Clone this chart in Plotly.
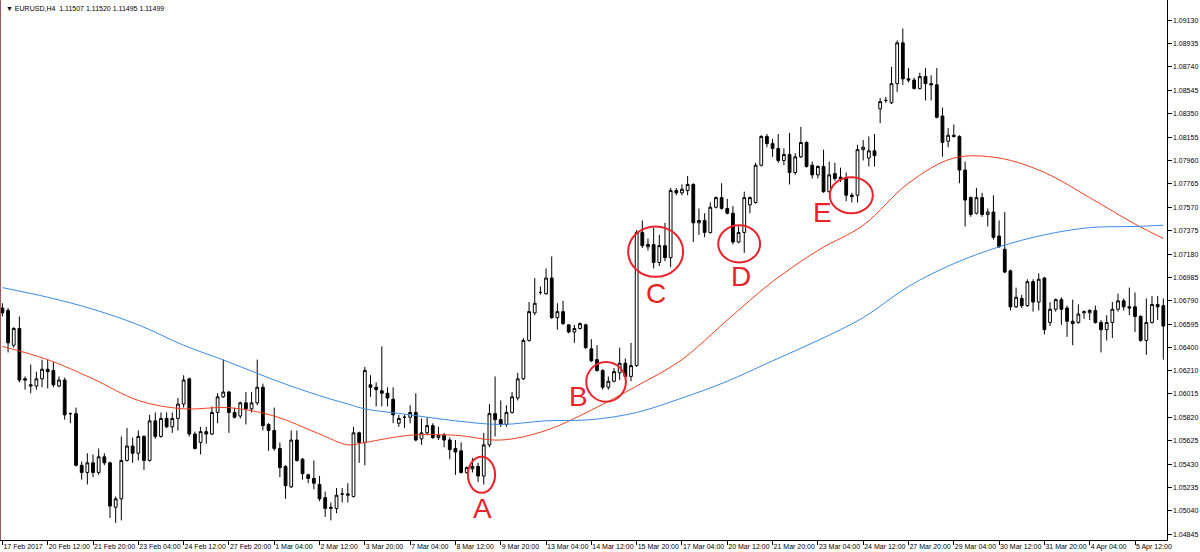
import plotly.graph_objects as go

# ---------------- data ----------------
opens = [1.0673,1.0671,1.0642,1.0656,1.0614,1.0608,1.0608,1.0614,1.0622,1.0621,
1.0608,1.0613,1.0585,1.0585,1.0542,1.0536,1.0544,1.0536,1.0549,1.0544,
1.0507,1.0514,1.0546,1.0558,1.0552,1.0566,1.0546,1.0579,1.0566,1.0581,
1.0574,1.0581,1.0593,1.0614,1.0568,1.0561,1.0570,1.0568,1.0586,1.0599,
1.0603,1.0586,1.0583,1.0594,1.0589,1.0594,1.0607,1.0576,1.0571,1.0556,
1.0541,1.0524,1.0563,1.0547,1.0534,1.0531,1.0526,1.0515,1.0506,1.0506,
1.0518,1.0517,1.0516,1.0569,1.0561,1.0609,1.0607,1.0604,1.0602,1.0597,
1.0577,1.0582,1.0582,1.0586,1.0564,1.0569,1.0575,1.0565,1.0567,1.0563,
1.0556,1.0554,1.0536,1.0539,1.0541,1.0533,1.0559,1.0585,1.0580,1.0576,
1.0586,1.0598,1.0614,1.0646,1.0669,1.0686,1.0685,1.0698,1.0665,1.0670,
1.0659,1.0653,1.0656,1.0659,1.0639,1.0630,1.0621,1.0607,1.0612,1.0619,
1.0627,1.0616,1.0625,1.0736,1.0724,1.0726,1.0711,1.0725,1.0715,1.0771,
1.0769,1.0771,1.0776,1.0744,1.0746,1.0736,1.0757,1.0765,1.0756,1.0752,
1.0728,1.0736,1.0759,1.0761,1.0792,1.0816,1.0810,1.0806,1.0796,1.0801,
1.0786,1.0799,1.0811,1.0792,1.0784,1.0791,1.0770,1.0785,1.0781,1.0781,
1.0767,1.0767,1.0805,1.0798,1.0804,1.0839,1.0846,1.0844,1.0860,1.0894,
1.0864,1.0863,1.0856,1.0866,1.0860,1.0859,1.0833,1.0812,1.0817,1.0816,
1.0788,1.0765,1.0752,1.0765,1.0751,1.0753,1.0733,1.0722,1.0704,1.0674,
1.0681,1.0675,1.0695,1.0678,1.0698,1.0661,1.0672,1.0680,1.0673,1.0662,
1.0661,1.0669,1.0669,1.0671,1.0661,1.0655,1.0661,1.0672,1.0679,1.0674,
1.0674,1.0666,1.0646,1.0661,1.0676,1.0675]

highs = [1.0677,1.0673,1.0657,1.0666,1.0616,1.0626,1.0620,1.0630,1.0630,1.0628,
1.0616,1.0615,1.0586,1.0590,1.0545,1.0552,1.0551,1.0556,1.0552,1.0545,
1.0516,1.0566,1.0573,1.0565,1.0571,1.0567,1.0584,1.0586,1.0586,1.0586,
1.0586,1.0598,1.0617,1.0615,1.0570,1.0574,1.0574,1.0591,1.0602,1.0630,
1.0604,1.0590,1.0595,1.0603,1.0603,1.0630,1.0610,1.0577,1.0590,1.0561,
1.0542,1.0571,1.0571,1.0548,1.0535,1.0546,1.0533,1.0520,1.0511,1.0523,
1.0523,1.0527,1.0574,1.0570,1.0624,1.0617,1.0611,1.0641,1.0607,1.0607,
1.0584,1.0584,1.0592,1.0602,1.0581,1.0582,1.0577,1.0574,1.0569,1.0565,
1.0563,1.0561,1.0541,1.0548,1.0544,1.0569,1.0593,1.0616,1.0596,1.0592,
1.0603,1.0619,1.0648,1.0678,1.0698,1.0691,1.0706,1.0716,1.0677,1.0679,
1.0659,1.0659,1.0661,1.0660,1.0647,1.0642,1.0622,1.0616,1.0623,1.0640,
1.0631,1.0644,1.0738,1.0746,1.0731,1.0740,1.0734,1.0744,1.0773,1.0773,
1.0776,1.0783,1.0777,1.0756,1.0752,1.0761,1.0766,1.0777,1.0764,1.0758,
1.0741,1.0770,1.0766,1.0794,1.0817,1.0818,1.0814,1.0818,1.0806,1.0819,
1.0802,1.0824,1.0812,1.0795,1.0792,1.0805,1.0795,1.0794,1.0790,1.0786,
1.0769,1.0809,1.0813,1.0816,1.0818,1.0848,1.0849,1.0874,1.0896,1.0906,
1.0873,1.0865,1.0869,1.0873,1.0867,1.0873,1.0840,1.0823,1.0826,1.0817,
1.0795,1.0766,1.0773,1.0769,1.0756,1.0767,1.0746,1.0753,1.0705,1.0690,
1.0684,1.0697,1.0697,1.0702,1.0699,1.0678,1.0681,1.0682,1.0675,1.0680,
1.0676,1.0671,1.0672,1.0675,1.0663,1.0667,1.0678,1.0685,1.0681,1.0690,
1.0686,1.0667,1.0681,1.0683,1.0683,1.0681]

lows = [1.0666,1.0636,1.0640,1.0611,1.0605,1.0602,1.0605,1.0607,1.0606,1.0607,
1.0607,1.0580,1.0577,1.0541,1.0530,1.0526,1.0532,1.0534,1.0542,1.0498,
1.0494,1.0496,1.0545,1.0544,1.0546,1.0538,1.0545,1.0564,1.0565,1.0573,
1.0569,1.0571,1.0590,1.0566,1.0555,1.0551,1.0560,1.0567,1.0577,1.0598,
1.0569,1.0581,1.0581,1.0576,1.0586,1.0592,1.0571,1.0554,1.0554,1.0532,
1.0514,1.0523,1.0545,1.0530,1.0527,1.0522,1.0512,1.0499,1.0496,1.0502,
1.0511,1.0511,1.0515,1.0544,1.0542,1.0599,1.0591,1.0591,1.0591,1.0577,
1.0574,1.0573,1.0577,1.0562,1.0559,1.0567,1.0564,1.0563,1.0557,1.0547,
1.0534,1.0535,1.0535,1.0536,1.0528,1.0526,1.0557,1.0566,1.0574,1.0574,
1.0585,1.0596,1.0613,1.0645,1.0667,1.0684,1.0684,1.0664,1.0655,1.0659,
1.0652,1.0644,1.0655,1.0639,1.0628,1.0620,1.0605,1.0605,1.0611,1.0613,
1.0614,1.0612,1.0624,1.0723,1.0721,1.0706,1.0708,1.0712,1.0707,1.0767,
1.0767,1.0767,1.0728,1.0734,1.0732,1.0735,1.0756,1.0755,1.0751,1.0726,
1.0727,1.0719,1.0752,1.0760,1.0791,1.0807,1.0799,1.0794,1.0792,1.0776,
1.0784,1.0798,1.0790,1.0781,1.0781,1.0769,1.0769,1.0779,1.0778,1.0762,
1.0761,1.0761,1.0796,1.0791,1.0791,1.0827,1.0844,1.0843,1.0853,1.0859,
1.0861,1.0855,1.0855,1.0846,1.0846,1.0831,1.0799,1.0807,1.0815,1.0777,
1.0741,1.0749,1.0751,1.0749,1.0741,1.0730,1.0723,1.0702,1.0671,1.0673,
1.0673,1.0674,1.0670,1.0671,1.0651,1.0658,1.0670,1.0659,1.0649,1.0642,
1.0660,1.0664,1.0663,1.0660,1.0636,1.0646,1.0648,1.0670,1.0671,1.0667,
1.0653,1.0645,1.0634,1.0660,1.0663,1.0630]

closes = [1.0669,1.0644,1.0656,1.0613,1.0613,1.0609,1.0614,1.0622,1.0620,1.0609,
1.0613,1.0584,1.0585,1.0542,1.0536,1.0544,1.0536,1.0549,1.0544,1.0508,
1.0514,1.0546,1.0558,1.0552,1.0566,1.0546,1.0579,1.0566,1.0581,1.0574,
1.0581,1.0593,1.0613,1.0568,1.0556,1.0570,1.0568,1.0586,1.0599,1.0603,
1.0586,1.0582,1.0594,1.0589,1.0594,1.0607,1.0575,1.0571,1.0556,1.0540,
1.0525,1.0563,1.0546,1.0535,1.0531,1.0527,1.0514,1.0506,1.0507,1.0517,
1.0518,1.0518,1.0569,1.0561,1.0621,1.0607,1.0605,1.0602,1.0598,1.0584,
1.0581,1.0582,1.0586,1.0563,1.0569,1.0575,1.0565,1.0567,1.0563,1.0555,
1.0553,1.0536,1.0540,1.0541,1.0533,1.0559,1.0585,1.0580,1.0576,1.0586,
1.0599,1.0614,1.0646,1.0670,1.0677,1.0686,1.0698,1.0665,1.0670,1.0660,
1.0653,1.0656,1.0660,1.0640,1.0629,1.0621,1.0607,1.0612,1.0620,1.0627,
1.0616,1.0625,1.0736,1.0725,1.0726,1.0711,1.0725,1.0715,1.0771,1.0769,
1.0772,1.0776,1.0744,1.0746,1.0736,1.0757,1.0765,1.0756,1.0752,1.0728,
1.0736,1.0765,1.0765,1.0792,1.0816,1.0810,1.0806,1.0796,1.0801,1.0786,
1.0799,1.0811,1.0791,1.0784,1.0791,1.0770,1.0784,1.0781,1.0782,1.0767,
1.0766,1.0805,1.0807,1.0804,1.0800,1.0845,1.0846,1.0860,1.0894,1.0864,
1.0863,1.0856,1.0866,1.0860,1.0859,1.0832,1.0811,1.0817,1.0816,1.0788,
1.0763,1.0751,1.0765,1.0751,1.0753,1.0732,1.0724,1.0703,1.0674,1.0682,
1.0675,1.0695,1.0678,1.0697,1.0655,1.0672,1.0680,1.0672,1.0662,1.0660,
1.0668,1.0670,1.0671,1.0661,1.0655,1.0661,1.0672,1.0679,1.0674,1.0673,
1.0666,1.0646,1.0661,1.0676,1.0674,1.0658]

bars = list(range(len(closes)))

# moving averages (sampled at bar indices)
ma_bars = [0, 8, 16, 24, 32, 40, 48, 56, 61, 64, 72, 80, 88, 96, 104, 112, 120,
           128, 136, 144, 152, 160, 168, 176, 184, 192, 200, 205]
ma_red = [1.0641, 1.0630, 1.0614, 1.0596, 1.0589, 1.0590, 1.0583, 1.0568, 1.0559,
          1.0561, 1.0567, 1.0567, 1.0563, 1.0571, 1.0588, 1.0608, 1.0630, 1.0663,
          1.0695, 1.0721, 1.0742, 1.0777, 1.0798, 1.0798, 1.0786, 1.0765, 1.0743, 1.0731]
ma_blue = [1.0690, 1.0682, 1.0672, 1.0659, 1.0642, 1.0628, 1.0613, 1.0600, 1.0593,
           1.0589, 1.0584, 1.0579, 1.0576, 1.0579, 1.0580, 1.0586, 1.0598, 1.0612,
           1.0629, 1.0646, 1.0665, 1.0691, 1.0710, 1.0724, 1.0734, 1.0740, 1.0741, 1.0742]

# x tick labels
xtick_bars = [0, 8, 16, 24, 32, 40, 48, 56, 64, 72, 80, 88, 96, 104, 112, 120,
              128, 136, 144, 152, 160, 168, 176, 184, 192, 200]
xtick_text = ["17 Feb 2017", "20 Feb 12:00", "21 Feb 20:00", "23 Feb 04:00",
              "24 Feb 12:00", "27 Feb 20:00", "1 Mar 04:00", "2 Mar 12:00",
              "3 Mar 20:00", "7 Mar 04:00", "8 Mar 12:00", "9 Mar 20:00",
              "13 Mar 04:00", "14 Mar 12:00", "15 Mar 20:00", "17 Mar 04:00",
              "20 Mar 12:00", "21 Mar 20:00", "23 Mar 04:00", "24 Mar 12:00",
              "27 Mar 20:00", "29 Mar 04:00", "30 Mar 12:00", "31 Mar 20:00",
              "4 Apr 04:00", "5 Apr 12:00"]

# y tick labels
ytick_text = ["1.09130", "1.08935", "1.08740", "1.08545", "1.08350", "1.08155",
              "1.07960", "1.07765", "1.07570", "1.07375", "1.07180", "1.06985",
              "1.06790", "1.06595", "1.06400", "1.06210", "1.06015", "1.05820",
              "1.05625", "1.05430", "1.05235", "1.05040", "1.04845"]
ytick_vals = [float(t) for t in ytick_text]

title_text = "▼ EURUSD,H4\u00a0\u00a01.11507 1.11520 1.11495 1.11499"

# marked setups: label, bar span, price span, label position
marks = [
    ("A", (82.2, 87.0), (1.0519, 1.0549), (84.7, 1.0506)),
    ("B", (103.1, 110.1), (1.0595, 1.0628), (101.8, 1.0599)),
    ("C", (110.5, 120.2), (1.0699, 1.0741), (115.4, 1.0685)),
    ("D", (126.4, 133.8), (1.0711, 1.0742), (130.4, 1.0699)),
    ("E", (146.1, 153.7), (1.0752, 1.0782), (144.9, 1.0753)),
]

# ---------------- figure ----------------
RED = "#E8232A"
FONT = "Liberation Sans, Arial, sans-serif"

fig = go.Figure()

fig.add_trace(go.Scatter(x=ma_bars, y=ma_red, mode="lines",
                         line=dict(color="#F2401E", width=1, shape="spline"),
                         hoverinfo="skip", showlegend=False))
fig.add_trace(go.Scatter(x=ma_bars, y=ma_blue, mode="lines",
                         line=dict(color="#3A8BE8", width=1, shape="spline"),
                         hoverinfo="skip", showlegend=False))

fig.add_trace(go.Candlestick(
    x=bars, open=opens, high=highs, low=lows, close=closes,
    increasing=dict(fillcolor="white", line=dict(color="black", width=1)),
    decreasing=dict(fillcolor="black", line=dict(color="black", width=1)),
    whiskerwidth=0, showlegend=False, hoverinfo="skip"))

shapes = []
annotations = []
for label, (bx0, bx1), (py0, py1), (lx, ly) in marks:
    shapes.append(dict(type="circle", xref="x", yref="y", x0=bx0, x1=bx1,
                       y0=py0, y1=py1, line=dict(color=RED, width=2)))
    annotations.append(dict(x=lx, y=ly, xref="x", yref="y", text=label,
                            showarrow=False, xanchor="center", yanchor="middle",
                            font=dict(family=FONT, size=28, color=RED)))

# price-scale labels, placed beside the axis tick marks
for val, txt in zip(ytick_vals, ytick_text):
    annotations.append(dict(x=1, y=val, xref="paper", yref="y", text=txt,
                            showarrow=False, xanchor="left", yanchor="middle",
                            xshift=5, borderpad=0,
                            font=dict(family=FONT, size=7, color="black")))

# left border
shapes.append(dict(type="line", xref="paper", yref="paper", x0=0, x1=0, y0=0, y1=1,
                   line=dict(color="#9C5A5A", width=2)))

annotations.append(dict(x=0, y=1, xref="paper", yref="paper", xanchor="left",
                        yanchor="top", xshift=4, yshift=-3, text=title_text,
                        showarrow=False, font=dict(family=FONT, size=7, color="black")))

fig.update_layout(
    width=1200, height=552,
    margin=dict(l=0, r=33, t=0, b=12),
    paper_bgcolor="white", plot_bgcolor="white",
    shapes=shapes, annotations=annotations,
    boxgap=0.3,
    xaxis=dict(range=[-0.424, 205.65], showgrid=False, zeroline=False,
               rangeslider=dict(visible=False), automargin=False,
               showline=True, linecolor="black", linewidth=1,
               ticks="outside", ticklen=4, tickcolor="black", tickwidth=1,
               tickmode="array", tickvals=xtick_bars, ticktext=xtick_text,
               ticklabelposition="outside right", tickangle=0,
               tickfont=dict(family=FONT, size=7, color="black")),
    yaxis=dict(range=[1.04797, 1.09297], side="right", showgrid=False, zeroline=False,
               automargin=False, showticklabels=False,
               showline=True, linecolor="black", linewidth=1,
               ticks="outside", ticklen=4, tickcolor="black", tickwidth=1,
               tickmode="array", tickvals=ytick_vals),
)

fig.write_html("out.html", config={"displayModeBar": False},
               post_script="document.body.style.margin='0';document.body.style.overflow='hidden';")
